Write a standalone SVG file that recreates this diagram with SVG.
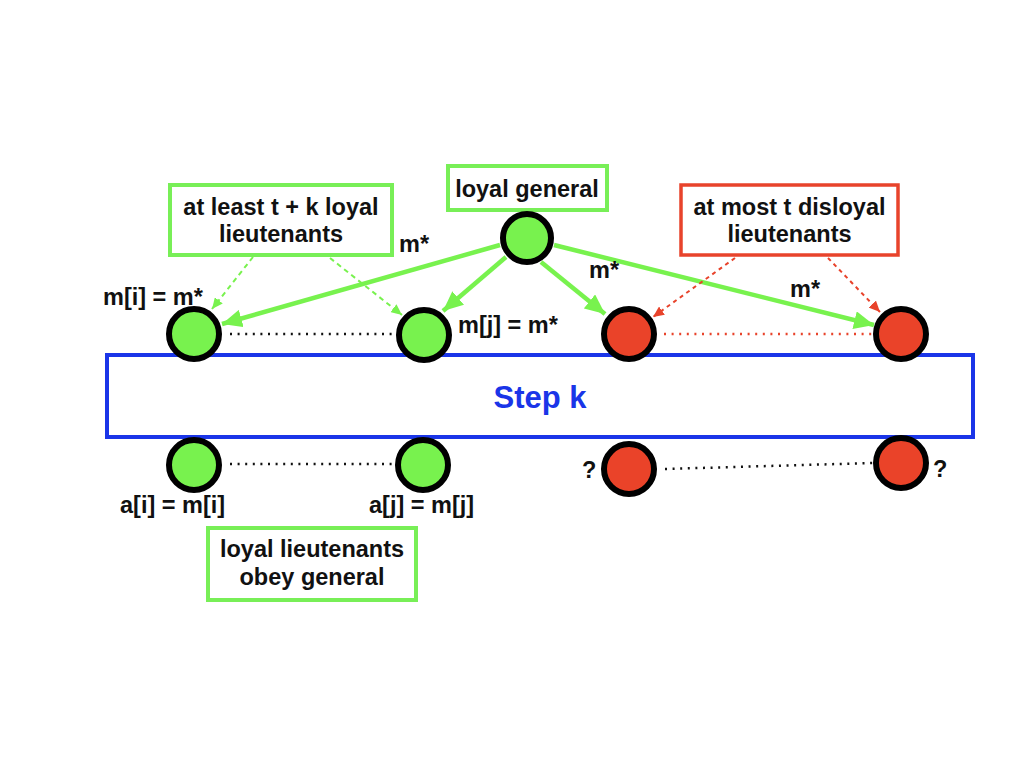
<svg xmlns="http://www.w3.org/2000/svg" width="1024" height="768" viewBox="0 0 1024 768">
<defs>
<style>
.t{font-family:"Liberation Sans",Arial,sans-serif;font-weight:bold;font-size:23.5px;fill:#111}
.gbox{fill:#fff;stroke:#78ef57;stroke-width:4}
.rbox{fill:#fff;stroke:#e8432b;stroke-width:3.5}
.gn{fill:#78f24e;stroke:#000;stroke-width:6}
.rn{fill:#ea4329;stroke:#000;stroke-width:6}
.ga{stroke:#78f24e;stroke-width:4.5;fill:none}
.gd{stroke:#78f24e;stroke-width:2;stroke-dasharray:5 4;fill:none}
.rd{stroke:#e8432b;stroke-width:2;stroke-dasharray:4 4;fill:none}
.dk{stroke:#111;stroke-width:2.5;stroke-dasharray:2 5.6;fill:none}
.dr{stroke:#e8432b;stroke-width:2.5;stroke-dasharray:2 5.6;fill:none}
</style>
<marker id="ah" markerUnits="userSpaceOnUse" markerWidth="22" markerHeight="18" refX="20" refY="9" orient="auto">
<path d="M0,0 L20,9 L0,18 Z" fill="#78f24e"/>
</marker>
<marker id="ahg" markerUnits="userSpaceOnUse" markerWidth="12" markerHeight="10" refX="11" refY="5" orient="auto">
<path d="M0,0 L11,5 L0,10 Z" fill="#78f24e"/>
</marker>
<marker id="ahr" markerUnits="userSpaceOnUse" markerWidth="12" markerHeight="10" refX="11" refY="5" orient="auto">
<path d="M0,0 L11,5 L0,10 Z" fill="#e8432b"/>
</marker>
</defs>
<rect width="1024" height="768" fill="#fff"/>

<g id="step">
<rect x="107" y="355" width="866" height="82" fill="#fff" stroke="#1a35e8" stroke-width="4"/>
<text x="540" y="408" text-anchor="middle" style="font-family:'Liberation Sans',Arial,sans-serif;font-weight:bold;font-size:31px;fill:#1a35e8">Step k</text>
</g>

<g id="connectors">
<line class="ga" x1="500" y1="245" x2="222" y2="324" marker-end="url(#ah)"/>
<line class="ga" x1="506" y1="257" x2="443" y2="311" marker-end="url(#ah)"/>
<line class="ga" x1="541" y1="262" x2="605" y2="314" marker-end="url(#ah)"/>
<line class="ga" x1="554" y1="245" x2="874" y2="325" marker-end="url(#ah)"/>
<line class="gd" x1="253" y1="257" x2="212" y2="309" marker-end="url(#ahg)"/>
<line class="gd" x1="330" y1="258" x2="402" y2="315" marker-end="url(#ahg)"/>
<line class="rd" x1="735" y1="258" x2="653" y2="317" marker-end="url(#ahr)"/>
<line class="rd" x1="828" y1="258" x2="880" y2="312" marker-end="url(#ahr)"/>
<line class="dk" x1="230" y1="334" x2="396" y2="334"/>
<line class="dr" x1="664" y1="334" x2="873" y2="334"/>
<line class="dk" x1="230" y1="464" x2="396" y2="464"/>
<line class="dk" x1="665" y1="469" x2="873" y2="463"/>
</g>

<g id="box-general">
<rect class="gbox" x="448" y="166" width="159" height="44"/>
<text class="t" x="527" y="197" text-anchor="middle">loyal general</text>
</g>
<g id="box-loyal">
<rect class="gbox" x="170" y="185" width="222" height="70"/>
<text class="t" x="281" y="215" text-anchor="middle">at least t + k loyal</text>
<text class="t" x="281" y="242" text-anchor="middle">lieutenants</text>
</g>
<g id="box-disloyal">
<rect class="rbox" x="681" y="185" width="217" height="70"/>
<text class="t" x="789.5" y="215" text-anchor="middle">at most t disloyal</text>
<text class="t" x="789.5" y="242" text-anchor="middle">lieutenants</text>
</g>
<g id="box-obey">
<rect class="gbox" x="208" y="528" width="208" height="72"/>
<text class="t" x="312" y="557" text-anchor="middle">loyal lieutenants</text>
<text class="t" x="312" y="585" text-anchor="middle">obey general</text>
</g>

<g id="general"><circle class="gn" cx="527" cy="238" r="24"/></g>
<g id="li"><circle class="gn" cx="194" cy="334" r="25"/></g>
<g id="lj"><circle class="gn" cx="424" cy="335" r="25"/></g>
<g id="d1"><circle class="rn" cx="629" cy="334" r="25"/></g>
<g id="d2"><circle class="rn" cx="901" cy="334" r="25"/></g>
<g id="ai"><circle class="gn" cx="194" cy="465" r="25"/></g>
<g id="aj"><circle class="gn" cx="423" cy="465" r="25"/></g>
<g id="q1"><circle class="rn" cx="629" cy="469" r="25"/></g>
<g id="q2"><circle class="rn" cx="901" cy="463" r="25"/></g>

<g id="labels">
<text class="t" x="399" y="252">m*</text>
<text class="t" x="103" y="305">m[i] = m*</text>
<text class="t" x="458" y="333">m[j] = m*</text>
<text class="t" x="589" y="278">m*</text>
<text class="t" x="790" y="297">m*</text>
<text class="t" x="120" y="513">a[i] = m[i]</text>
<text class="t" x="369" y="513">a[j] = m[j]</text>
<text class="t" x="582" y="478">?</text>
<text class="t" x="933" y="477">?</text>
</g>
</svg>
